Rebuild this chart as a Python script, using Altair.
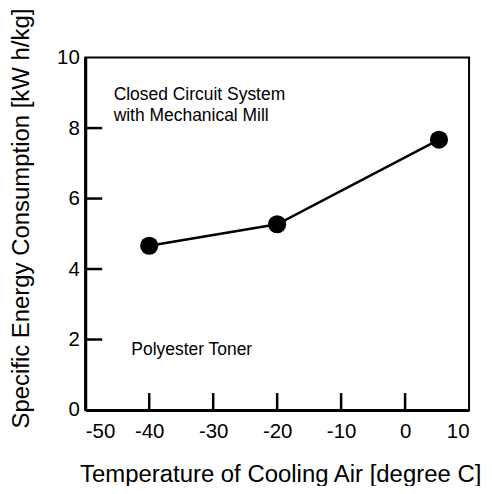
import altair as alt
import pandas as pd

# data
temps = [-40, -20, 5.3]
energy = [4.66, 5.27, 7.67]

x_ticks = [-50, -40, -30, -20, -10, 0, 10]
y_ticks = [0, 2, 4, 6, 8, 10]
x_inner_ticks = [-40, -30, -20, -10, 0]
y_inner_ticks = [2, 4, 6, 8]

note_x = [-45.56, -42.8]
note_y = [8.80, 1.57]
note_text = ["Closed Circuit System\nwith Mechanical Mill", "Polyester Toner"]

FONT = "Liberation Sans"

df = pd.DataFrame({"temp": temps, "energy": energy})
notes = pd.DataFrame({"x": note_x, "y": note_y, "text": note_text})
xt = pd.DataFrame({"v": x_inner_ticks})
yt = pd.DataFrame({"v": y_inner_ticks})

W, H = 385, 353.5
x_scale = alt.Scale(domain=[-50, 10], nice=False, zero=False)
y_scale = alt.Scale(domain=[0, 10], nice=False)

hyphen_labels = "datum.value < 0 ? '-' + abs(datum.value) : '' + datum.value"

x_axis = alt.Axis(
    values=x_ticks, tickSize=0, labelPadding=12, labelFontSize=20.5,
    labelFont=FONT, labelColor="black", grid=False, domainColor="black",
    labelExpr=hyphen_labels,
    domainWidth=3, title="Temperature of Cooling Air [degree C]",
    titleFontSize=24, titleFont=FONT, titleFontWeight="normal", titleColor="black",
    titleX=195.5, titleY=71.5, titleBaseline="alphabetic", titleAlign="center",
)
y_axis = alt.Axis(
    values=y_ticks, tickSize=0, labelPadding=6, labelFontSize=20.5,
    labelFont=FONT, labelColor="black", grid=False, domainColor="black",
    domainWidth=3, title="Specific Energy Consumption [kW h/kg]",
    titleFontSize=24, titleFont=FONT, titleFontWeight="normal", titleColor="black",
    titleX=-64, titleY=161, titleBaseline="middle", titleAlign="center", titleAngle=270,
)

line = alt.Chart(df).mark_line(color="black", strokeWidth=2.5).encode(
    x=alt.X("temp:Q", scale=x_scale, axis=x_axis),
    y=alt.Y("energy:Q", scale=y_scale, axis=y_axis),
)
points = alt.Chart(df).mark_circle(color="black", size=330, opacity=1).encode(
    x=alt.X("temp:Q", scale=x_scale),
    y=alt.Y("energy:Q", scale=y_scale),
)
text = alt.Chart(notes).mark_text(
    align="left", baseline="alphabetic", fontSize=17.5, font=FONT,
    color="black", lineBreak="\n", lineHeight=21.4,
).encode(
    x=alt.X("x:Q", scale=x_scale),
    y=alt.Y("y:Q", scale=y_scale),
    text="text:N",
)
xticks = alt.Chart(xt).mark_rule(color="black", strokeWidth=2.5).encode(
    x=alt.X("v:Q", scale=x_scale),
    y=alt.value(H),
    y2=alt.value(H - 17),
)
yticks = alt.Chart(yt).mark_rule(color="black", strokeWidth=2.5).encode(
    y=alt.Y("v:Q", scale=y_scale),
    x=alt.value(0),
    x2=alt.value(17),
)

chart = alt.layer(line, xticks, yticks, points, text).properties(
    width=W, height=H,
    autosize=alt.AutoSizeParams(type="none"),
    padding={"left": 77.5, "top": 49, "right": 15, "bottom": 75},
    background="white",
).configure_view(stroke="black", strokeWidth=2)

chart.save("out.html", embed_options={"renderer": "svg", "actions": False})
